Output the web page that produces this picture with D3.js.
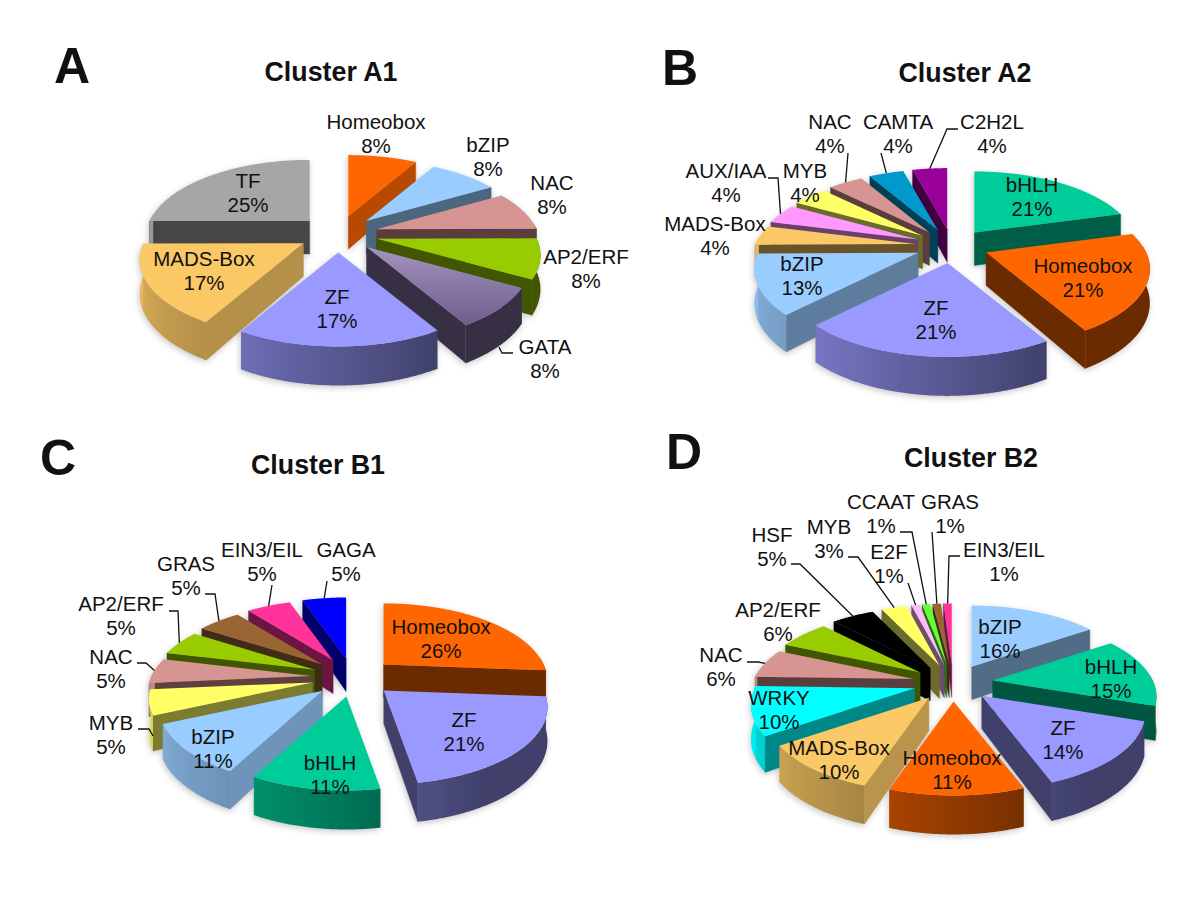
<!DOCTYPE html>
<html><head><meta charset="utf-8">
<script src="https://cdn.jsdelivr.net/npm/d3@7"></script>
<style>html,body{margin:0;background:#fff}svg{display:block}text{font-family:"Liberation Sans",Arial,sans-serif;fill:#111}</style>
</head><body><svg id="c" width="1200" height="909"></svg>
<script>
// ---- data (percent of each cluster) ----
const a1Names=["Homeobox","bZIP","NAC","AP2/ERF","GATA","ZF","MADS-Box","TF"];
const a1Values=[8.3,8.3,8.3,8.3,8.3,16.7,16.7,25];
const a2Names=["bHLH","Homeobox","ZF","bZIP","MADS-Box","AUX/IAA","MYB","NAC","CAMTA","C2H2L"];
const a2Values=[20.8,20.8,20.8,12.5,4.2,4.2,4.2,4.2,4.2,4.2];
const b1Names=["Homeobox","ZF","bHLH","bZIP","MYB","NAC","AP2/ERF","GRAS","EIN3/EIL","GAGA"];
const b1Values=[26.3,21.1,10.5,10.5,5.3,5.3,5.3,5.3,5.3,5.3];
const b2Names=["bZIP","bHLH","ZF","Homeobox","MADS-Box","WRKY","NAC","AP2/ERF","HSF","MYB","E2F","CCAAT","GRAS","EIN3/EIL"];
const b2Values=[15.6,14.8,14.2,11,10.2,10.2,6.2,6.2,5.2,3.1,1,1,1,1];
const colours={Homeobox:"#ff6600",bZIP:"#99ccff",NAC:"#d69492","AP2/ERF":"#99cc00",GATA:"#8470a2",ZF:"#9999ff","MADS-Box":"#fac864",TF:"#a6a6a6",bHLH:"#00cc99",MYB:"#ffff66","AUX/IAA":"#ff99ff",CAMTA:"#0099cc",C2H2L:"#990099",GRAS:"#996633","EIN3/EIL":"#ff3399",GAGA:"#0000ff",WRKY:"#00ffff",HSF:"#000000",E2F:"#ffbbff",CCAAT:"#66ff33"};

// ---- layout (label centres and leader elbows, not data) ----
const a1Labels=[[376,122],[488,145],[552,183],[586,257],[545,347],[337,297],[204,259],[248,181]];
const a2Labels=[[1032,185],[1083,266],[936,308],[802,264],[715,224],[726,171],[805,171],[830,122],[898,122],[992,122]];
const b1Labels=[[441,627],[464,720],[330,763],[213,737],[111,723],[111,657],[121,604],[186,564],[262,550],[346,550]];
const b2Labels=[[1000,627],[1111,667],[1063,728],[952,758],[839,748],[779,698],[721,655],[778,610],[772,535],[829,527],[889,552],[881,502],[950,502],[1004,550]];
const a1Leaders={GATA:{pts:[[513,353],[502,353]],end:[499,347]}};
const a2Leaders={"AUX/IAA":{pts:[[768,178],[778,178]]},NAC:{pts:[[848,153]]},CAMTA:{pts:[[881,153]]},C2H2L:{pts:[[958,129],[947,129]]}};
const b1Leaders={MYB:{pts:[[138,729],[149,729]],end:[153,736]},NAC:{pts:[[137,663],[146,663]]},"AP2/ERF":{pts:[[169,611],[178,611]]},GRAS:{pts:[[205,594],[215,594]]},"EIN3/EIL":{pts:[[272,585]]},GAGA:{pts:[[327,581]]}};
const b2Leaders={NAC:{pts:[[747,662],[758,662]]},HSF:{pts:[[791,564],[800,564]]},MYB:{pts:[[848,557],[858,557]]},E2F:{pts:[[908,583]]},CCAAT:{pts:[[900,532],[912,532]]},GRAS:{pts:[[932,532]]},"EIN3/EIL":{pts:[[960,556],[949,556]]}};
const panels=[
 {id:"a1",names:a1Names,values:a1Values,labels:a1Labels,leaders:a1Leaders,cx:338,cy:234,e:.25,title:"Cluster A1",tx:331,ty:72,letter:"A",lx:72,ly:66},
 {id:"a2",names:a2Names,values:a2Values,labels:a2Labels,leaders:a2Leaders,cx:952,cy:246,e:.23,title:"Cluster A2",tx:965,ty:73,letter:"B",lx:680,ly:68},
 {id:"b1",names:b1Names,values:b1Values,labels:b1Labels,leaders:b1Leaders,cx:353,cy:677.5,e:.26,title:"Cluster B1",tx:318,ty:465,letter:"C",lx:58,ly:458},
 {id:"b2",names:b2Names,values:b2Values,labels:b2Labels,leaders:b2Leaders,cx:953,cy:683,e:.25,title:"Cluster B2",tx:971,ty:458,letter:"D",lx:684,ly:452}
];
const RX=160,RY=74,PERSP=.2126,THICK=33;
const radialShade=d3.scaleLinear().domain([90,120,150,180,270]).range([.78,.72,.5,.42,.42]).clamp(true);
const outerShade=d3.scaleLinear().domain([150,210,270]).range([.42,.72,.92]).clamp(true);
const shade=(c,f)=>{const r=d3.rgb(c);return d3.rgb(r.r*f,r.g*f,r.b*f).formatHex();};
const rad=d=>d*Math.PI/180, line=d3.line();
const svg=d3.select("#c"), defs=svg.append("defs");

panels.forEach(P=>{
  const pie=d3.pie().sort(null).value(d=>d.v)(P.names.map((n,i)=>({n,v:P.values[i],i})));
  const slices=pie.map(a=>{
    const t1=a.startAngle*180/Math.PI,t2=a.endAngle*180/Math.PI,m=(t1+t2)/2,
      ox=P.e*Math.sin(rad(m)),oy=P.e*Math.cos(rad(m));
    const proj=(r,t)=>{const u=r*Math.sin(rad(t)),v=r*Math.cos(rad(t)),w=1/(1+PERSP*v);
      return {x:P.cx+RX*ox+RX*u*w,y:P.cy-RY*oy-RY*v*w,h:THICK*Math.pow(w,.7)};};
    return {a,name:a.data.n,i:a.data.i,t1,t2,m,proj,depth:oy+.6*Math.cos(rad(m))};
  });
  const g=svg.append("g").style("filter","drop-shadow(-1px 2px 3px rgba(0,0,0,.22))");
  slices.slice().sort((p,q)=>q.depth-p.depth).forEach(S=>{
    const col=colours[S.name],sg=g.append("g");
    const arc=d3.range(S.t1,S.t2,.5).concat(S.t2);
    const xy=p=>[p.x,p.y], low=p=>[p.x,p.y+p.h];
    const apex=S.proj(0,0);
    if(S.t1>180){
      const p=S.proj(1,S.t1);
      sg.append("path").attr("d",line([xy(apex),xy(p),low(p),low(apex)])+"Z").attr("fill",shade(col,radialShade(S.t1-90))).attr("stroke",shade(col,radialShade(S.t1-90))).attr("stroke-width",.4);
    }
    if(S.t2<180){
      const p=S.proj(1,S.t2);
      sg.append("path").attr("d",line([xy(apex),xy(p),low(p),low(apex)])+"Z").attr("fill",shade(col,radialShade(S.t2+90))).attr("stroke",shade(col,radialShade(S.t2+90))).attr("stroke-width",.4);
    }
    const vis=arc.filter(t=>t>=85&&t<=275);
    if(vis.length>1){
      const id="w"+P.id+S.i, pts=vis.map(t=>S.proj(1,t));
      const x0=pts[0].x,x1=pts[pts.length-1].x;
      const gr=defs.append("linearGradient").attr("id",id).attr("gradientUnits","userSpaceOnUse").attr("x1",x0).attr("x2",x1).attr("y1",0).attr("y2",0);
      vis.forEach((t,k)=>{ if(k%6===0||k===vis.length-1)
        gr.append("stop").attr("offset",Math.max(0,Math.min(1,(pts[k].x-x0)/((x1-x0)||1)))).attr("stop-color",shade(col,outerShade(t)));});
      sg.append("path").attr("d",line(pts.map(xy).concat(pts.slice().reverse().map(low)))+"Z").attr("fill",`url(#${id})`);
    }
    let fill=col;
    if(S.name==="GATA"){
      const gr=defs.append("linearGradient").attr("id","gata").attr("x1",0).attr("x2",0).attr("y1",0).attr("y2",1);
      gr.append("stop").attr("offset",0).attr("stop-color","#a394bd");
      gr.append("stop").attr("offset",1).attr("stop-color","#6f5c8c");
      fill="url(#gata)";
    }
    sg.append("path").attr("d",line([xy(apex)].concat(arc.map(t=>xy(S.proj(1,t)))))+"Z").attr("fill",fill);
  });
  // leaders
  slices.forEach(S=>{
    const L=P.leaders[S.name]; if(!L) return;
    const e=S.proj(1,S.m);
    const end=L.end||[e.x,e.y];
    svg.append("path").attr("d",line(L.pts.concat([end]))).attr("fill","none").attr("stroke","#111").attr("stroke-width",1.3);
  });
  // labels
  slices.forEach(S=>{
    const [x,y]=P.labels[S.i];
    const t=svg.append("text").attr("text-anchor","middle").attr("font-size",20.5);
    t.append("tspan").attr("x",x).attr("y",y+7).text(S.name);
    t.append("tspan").attr("x",x).attr("y",y+31).text(Math.round(S.a.data.v)+"%");
  });
  svg.append("text").attr("x",P.tx).attr("y",P.ty+9).attr("text-anchor","middle").attr("font-size",26.8).attr("font-weight","bold").text(P.title);
  svg.append("text").attr("x",P.lx).attr("y",P.ly+17).attr("text-anchor","middle").attr("font-size",50).attr("font-weight","bold").text(P.letter);
});
</script></body></html>
